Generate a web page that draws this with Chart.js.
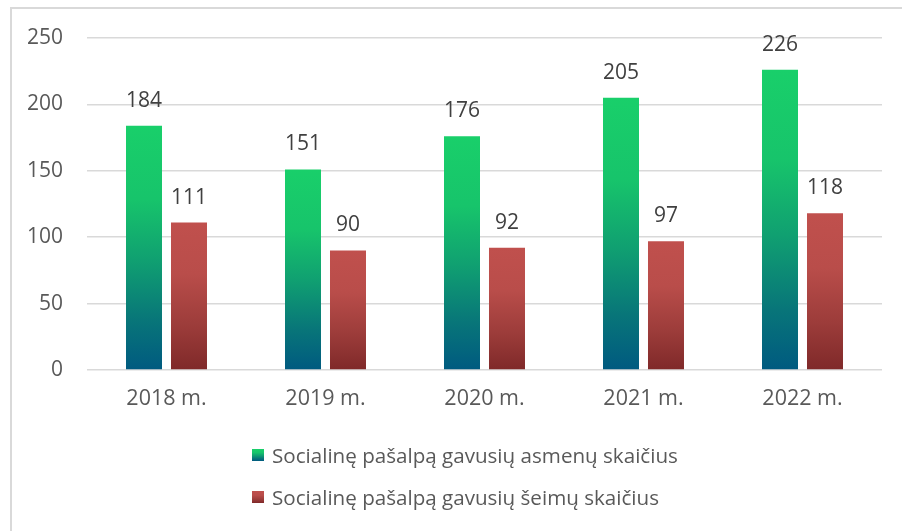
<!DOCTYPE html>
<html>
<head>
<meta charset="utf-8">
<script src="https://cdn.jsdelivr.net/npm/chart.js@4/dist/chart.umd.min.js"></script>
<style>
  html, body { margin: 0; padding: 0; background: #fff; overflow: hidden; }
  #wrap { position: relative; width: 902px; height: 531px; }
  #legend { position: absolute; left: 252px; top: 434px; font-family: "Open Sans", sans-serif; font-size: 20.6px; color: #595959; }
  #legend .item { display: flex; align-items: center; height: 42px; }
  #legend .box { width: 12px; height: 12px; margin-right: 8px; }
</style>
</head>
<body>
<div id="wrap">
  <canvas id="chart" width="902" height="531"></canvas>
  <div id="legend"></div>
</div>
<script>
"use strict";

var years = ['2018 m.', '2019 m.', '2020 m.', '2021 m.', '2022 m.'];
var personsLabel = 'Socialinę pašalpą gavusių asmenų skaičius';
var familiesLabel = 'Socialinę pašalpą gavusių šeimų skaičius';
var personsValues = [184, 151, 176, 205, 226];
var familiesValues = [111, 90, 92, 97, 118];
var yTicks = [0, 50, 100, 150, 200, 250];

var greenStops = [[0, '#19CF6A'], [0.3, '#17C46B'], [0.55, '#10A071'], [0.8, '#087579'], [1, '#005A80']];
var redStops = [[0, '#C0504D'], [0.35, '#B94D4A'], [0.7, '#9C3C3A'], [1, '#7F2929']];

function barGradient(c, stops) {
  var chart = c.chart;
  if (!chart.chartArea || !chart.scales.y || c.raw === undefined) {
    return stops[0][1];
  }
  var y = chart.scales.y;
  var top = y.getPixelForValue(c.raw);
  var bottom = y.getPixelForValue(0);
  var g = chart.ctx.createLinearGradient(0, top, 0, bottom);
  stops.forEach(function(s) { g.addColorStop(s[0], s[1]); });
  return g;
}

function cssGradient(stops) {
  return 'linear-gradient(to bottom, ' + stops.map(function(s) {
    return s[1] + ' ' + (s[0] * 100) + '%';
  }).join(', ') + ')';
}

// border + value labels
var extras = {
  id: 'extras',
  beforeDraw: function(chart) {
    var ctx = chart.ctx;
    ctx.save();
    ctx.strokeStyle = '#D9D9D9';
    ctx.lineWidth = 2;
    ctx.strokeRect(11, 8, 1000, 1000);
    ctx.restore();
  },
  afterDatasetsDraw: function(chart) {
    var ctx = chart.ctx;
    ctx.save();
    ctx.font = '21px "Open Sans"';
    ctx.fillStyle = '#404040';
    ctx.textAlign = 'center';
    ctx.textBaseline = 'middle';
    chart.data.datasets.forEach(function(ds, i) {
      chart.getDatasetMeta(i).data.forEach(function(bar, j) {
        ctx.fillText(ds.data[j], bar.x, bar.y - 25);
      });
    });
    ctx.restore();
  }
};

var chart = new Chart(document.getElementById('chart'), {
  type: 'bar',
  data: {
    labels: years,
    datasets: [{
      label: personsLabel,
      data: personsValues,
      backgroundColor: function(c) { return barGradient(c, greenStops); },
      categoryPercentage: 0.566,
      barPercentage: 0.8
    }, {
      label: familiesLabel,
      data: familiesValues,
      backgroundColor: function(c) { return barGradient(c, redStops); },
      categoryPercentage: 0.566,
      barPercentage: 0.8
    }]
  },
  options: {
    responsive: false,
    animation: false,
    layout: { padding: { left: 0, right: 20, top: 38, bottom: 121 } },
    plugins: {
      legend: { display: false },
      tooltip: { enabled: false }
    },
    scales: {
      x: {
        grid: { display: false, drawTicks: false },
        border: { display: false },
        ticks: { color: '#595959', font: { family: 'Open Sans', size: 21.5 }, padding: 16 },
        afterFit: function(axis) { axis.height = 40; }
      },
      y: {
        min: 0,
        max: 250,
        afterBuildTicks: function(axis) {
          axis.ticks = yTicks.map(function(v) { return { value: v }; });
        },
        grid: { color: '#D9D9D9', lineWidth: 1.5, drawTicks: false },
        border: { display: false },
        ticks: { color: '#595959', font: { family: 'Open Sans', size: 21 }, padding: 24 },
        afterFit: function(axis) { axis.width = 87; }
      }
    }
  },
  plugins: [extras]
});

var legend = document.getElementById('legend');
[[personsLabel, greenStops], [familiesLabel, redStops]].forEach(function(it) {
  var row = document.createElement('div');
  row.className = 'item';
  var box = document.createElement('span');
  box.className = 'box';
  box.style.background = cssGradient(it[1]);
  var txt = document.createElement('span');
  txt.textContent = it[0];
  row.appendChild(box);
  row.appendChild(txt);
  legend.appendChild(row);
});
</script>
</body>
</html>
